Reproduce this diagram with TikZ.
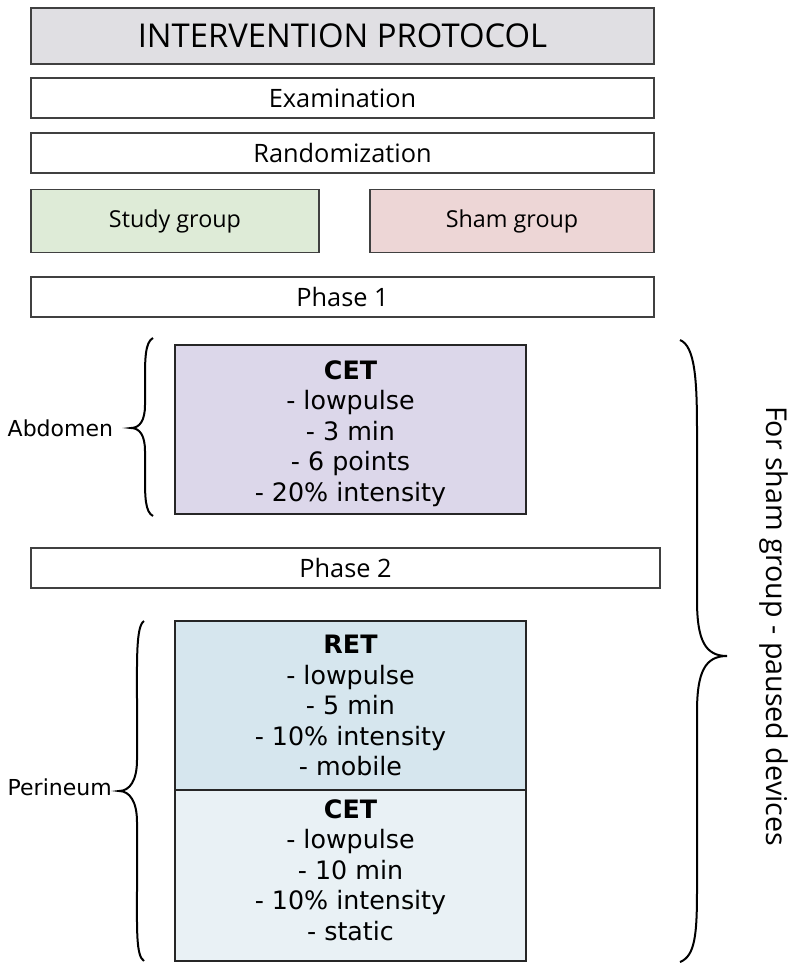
\documentclass[tikz,border=0pt]{standalone}
\usepackage{fontspec}
\newfontfamily\segoefont{Open Sans}
\newfontfamily\verdfont{DejaVu Sans}
\usetikzlibrary{positioning}
\definecolor{titlegray}{RGB}{224,223,227}
\definecolor{studygreen}{RGB}{222,235,215}
\definecolor{shampink}{RGB}{237,214,214}
\definecolor{cetlilac}{RGB}{220,215,234}
\definecolor{retblue}{RGB}{214,230,238}
\definecolor{cetblue}{RGB}{233,241,245}
\definecolor{edgegray}{RGB}{64,64,64}
\newcommand\pxu{0.75pt}
\begin{document}
\begin{tikzpicture} [x=0.75pt, y=-0.75pt,
				bar/.style={
				% The shape:
				rectangle,
				% The size:
				minimum width=623*\pxu,
				minimum height=40*\pxu,
				% The border:
				draw=edgegray, line width=1.5*\pxu,
				% Font
				font=\segoefont\fontsize{19}{22}\selectfont
				},
				group/.style={
				bar,
				minimum height=63*\pxu,
				font=\segoefont\fontsize{17.5}{21}\selectfont
				},
				therapy/.style={
				% The shape:
				rectangle,
				% The size:
				minimum width=351*\pxu,
				minimum height=169*\pxu,
				% The border:
				draw=black!85, line width=2*\pxu
				},
				dosage/.style={
				align=center,
				font=\verdfont\fontsize{19}{22.9}\selectfont
				},
				side/.style={
				anchor=west,
				font=\verdfont\fontsize{16.5}{20}\selectfont
				},
				curly/.style={
				draw=black, line width=2*\pxu
				},
				]
    \useasboundingbox (0,0) rectangle (796,972);
    % top of the protocol
    \node [bar, fill=titlegray, minimum height=56*\pxu,
           font=\segoefont\fontsize{24.6}{28}\selectfont] (title) at (342.5,36) {INTERVENTION PROTOCOL};
    \node [bar] (exam) at (342.5,98) {Examination};
    \node [bar] (random) at (342.5,153) {Randomization};
    \node [group, fill=studygreen, minimum width=288*\pxu] (study) at (175,221) {Study group};
    \node [group, fill=shampink, minimum width=284*\pxu] (sham) at (512,221) {Sham group};
    \node [bar] (phaseA) at (342.5,297) {Phase 1};
    % phase 1
    \node [therapy, fill=cetlilac] (cetA) at (350.5,429.5) {};
    \node [dosage] (cetAtext) at ([yshift=-3pt]cetA.center)
        {\textbf{CET}\\- lowpulse\\- 3 min\\- 6 points\\- 20\% intensity};
    \node [bar, minimum width=629*\pxu] (phaseB) at (345.5,568) {Phase 2};
    % phase 2
    \node [therapy, fill=retblue] (ret) at (350.5,705.5) {};
    \node [dosage] (rettext) at (ret.center)
        {\textbf{RET}\\- lowpulse\\- 5 min\\- 10\% intensity\\- mobile};
    \node [therapy, fill=cetblue, minimum height=171*\pxu] (cetB) at (350.5,875.5) {};
    \node [dosage] (cetBtext) at ([yshift=4pt]cetB.center)
        {\textbf{CET}\\- lowpulse\\- 10 min\\- 10\% intensity\\- static};
    % braces and their labels
    \coordinate (abdtip) at (131,428);
    \coordinate (pertip) at (119,791);
    \coordinate (shamtip) at (727,656);
    \node [side] (abdomen) at (3,428) {Abdomen};
    \node [side] (perineum) at (3,787) {Perineum};
    \node [font=\segoefont\fontsize{21.5}{25}\selectfont, rotate=-90] (paused) at (774,626)
        {For sham group - paused devices};
    \draw [curly] (153,338) .. controls (145,342) and (145,360) .. (145,380) -- (145,405)
        .. controls (145,420) and (140,428) .. (abdtip)
        .. controls (140,428) and (145,436) .. (145,451) -- (145,476)
        .. controls (145,496) and (145,512) .. (153,516);
    \draw [curly] (144,621) .. controls (136,626) and (137,660) .. (137,700) -- (137,760)
        .. controls (137,780) and (130,791) .. (pertip)
        .. controls (130,791) and (137,802) .. (137,822) -- (137,890)
        .. controls (137,930) and (136,956) .. (144,961);
    \draw [curly] (680,340) .. controls (695,346) and (697,380) .. (697,430) -- (697,600)
        .. controls (697,640) and (705,656) .. (shamtip)
        .. controls (705,656) and (697,672) .. (697,712) -- (697,890)
        .. controls (697,935) and (695,956) .. (680,962);
\end{tikzpicture}
\end{document}
